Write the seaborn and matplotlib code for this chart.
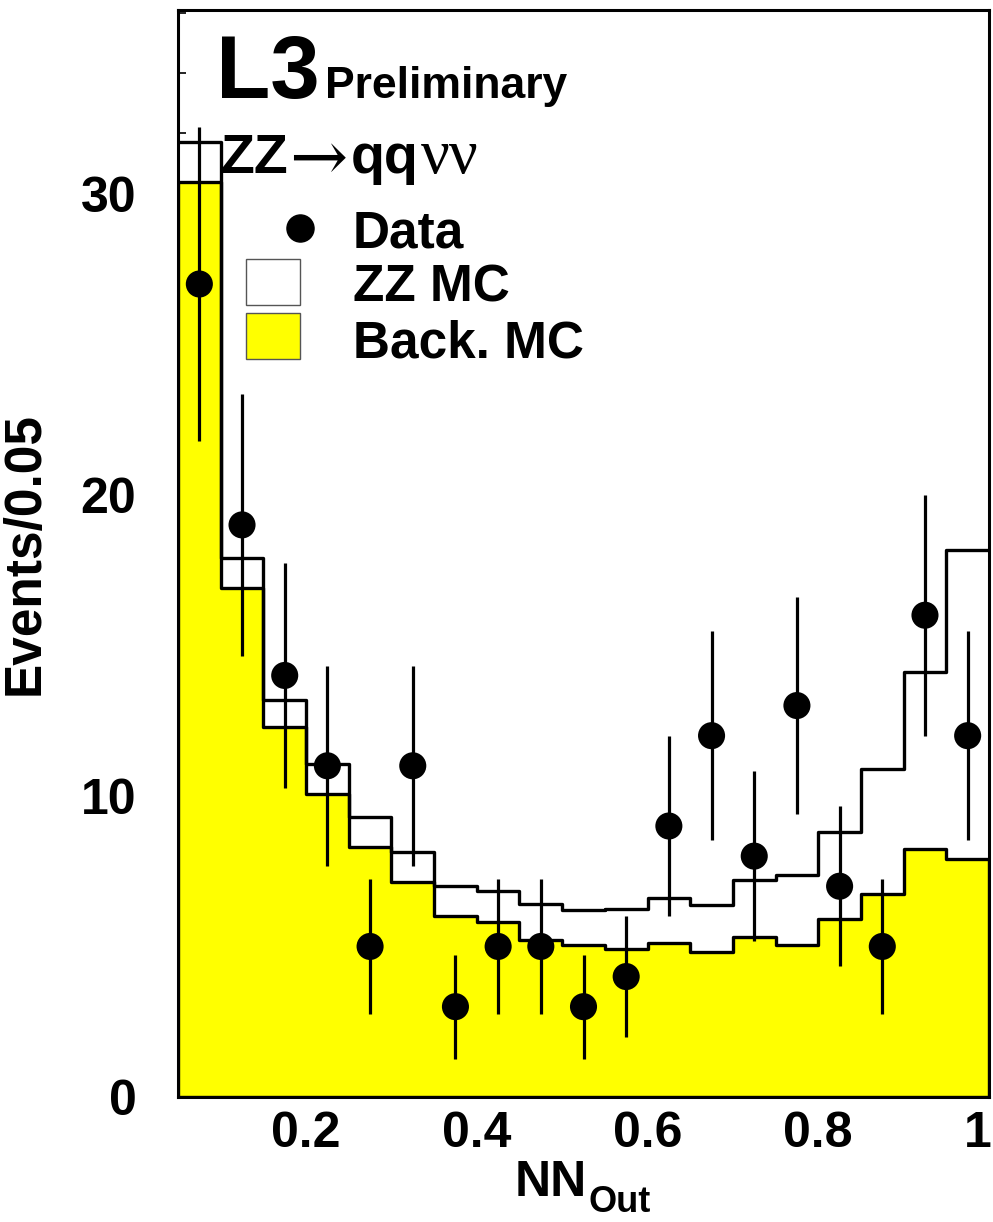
import numpy as np
import pandas as pd
import matplotlib
matplotlib.use("Agg")
import matplotlib.pyplot as plt
from matplotlib.patches import Rectangle
from matplotlib.lines import Line2D
from matplotlib.ticker import MultipleLocator, FixedLocator, FixedFormatter
from matplotlib.transforms import ScaledTranslation
import seaborn as sns

# ---------------- data ----------------
bin_edges = [0.05, 0.10, 0.15, 0.20, 0.25, 0.30, 0.35, 0.40, 0.45, 0.50,
             0.55, 0.60, 0.65, 0.70, 0.75, 0.80, 0.85, 0.90, 0.95, 1.00]
bin_centers = [0.075, 0.125, 0.175, 0.225, 0.275, 0.325, 0.375, 0.425, 0.475, 0.525,
               0.575, 0.625, 0.675, 0.725, 0.775, 0.825, 0.875, 0.925, 0.975]
data_counts = [27, 19, 14, 11, 5, 11, 3, 5, 5, 3, 4, 9, 12, 8, 13, 7, 5, 16, 12]
data_errors = [5.2, 4.36, 3.74, 3.32, 2.24, 3.32, 1.73, 2.24, 2.24, 1.73,
               2.0, 3.0, 3.46, 2.83, 3.61, 2.65, 2.24, 4.0, 3.46]
back_mc = [30.4, 16.9, 12.3, 10.05, 8.3, 7.13, 6.0, 5.8, 5.2, 5.05,
           4.92, 5.1, 4.82, 5.32, 5.05, 5.9, 6.73, 8.25, 7.92]
zz_plus_back = [31.7, 17.9, 13.2, 11.05, 9.3, 8.15, 7.0, 6.85, 6.42, 6.2,
                6.25, 6.6, 6.38, 7.22, 7.38, 8.8, 10.9, 14.1, 18.15]

x_tick_vals = [0.2, 0.4, 0.6, 0.8, 1.0]
x_tick_labels = ["0.2", "0.4", "0.6", "0.8", "1"]
y_tick_vals = [0, 10, 20, 30]
y_tick_labels = ["0", "10", "20", "30"]

# ---------------- style ----------------
sns.set_theme(style="ticks")
plt.rcParams["font.family"] = ["Liberation Sans", "DejaVu Sans"]
plt.rcParams["font.weight"] = "bold"
for k in ["text.color", "axes.labelcolor", "xtick.color", "ytick.color",
          "axes.edgecolor", "xtick.labelcolor", "ytick.labelcolor"]:
    plt.rcParams[k] = "black"

W, H = 993, 1222
fig = plt.figure(figsize=(W / 100, H / 100), dpi=100, facecolor="white")
ax = fig.add_axes([178 / W, 1 - 1097 / H, (989 - 178) / W, (1097 - 10) / H])
ax.set_facecolor("white")

df = pd.DataFrame({"x": bin_centers, "back": back_mc, "tot": zz_plus_back,
                   "n": data_counts, "err": data_errors})

# background MC (yellow, filled)
sns.histplot(data=df, x="x", weights="back", bins=bin_edges, element="step",
             fill=True, color="#ffff00", alpha=1.0, edgecolor="black",
             linewidth=2.4, ax=ax, zorder=2)
# ZZ MC stacked on top (white, outline only)
sns.histplot(data=df, x="x", weights="tot", bins=bin_edges, element="step",
             fill=False, color="black", linewidth=2.4, ax=ax, zorder=3)
# data points
ax.errorbar(df["x"], df["n"], yerr=df["err"], fmt="none", ecolor="black",
            elinewidth=2.3, capsize=0, zorder=4)
sns.scatterplot(data=df, x="x", y="n", s=380, color="black", edgecolor="none",
                ax=ax, zorder=5)

# ---------------- axes ----------------
ax.set_xlim(0.05, 1.0)
ax.set_ylim(0, 36.1)
ax.xaxis.set_major_locator(FixedLocator(x_tick_vals))
ax.xaxis.set_major_formatter(FixedFormatter(x_tick_labels))
ax.xaxis.set_minor_locator(MultipleLocator(0.05))
ax.yaxis.set_major_locator(FixedLocator(y_tick_vals))
ax.yaxis.set_major_formatter(FixedFormatter(y_tick_labels))
ax.yaxis.set_minor_locator(MultipleLocator(2))
ax.tick_params(axis="both", which="both", direction="in", top=False, right=False,
               color="black", width=1.2)
ax.tick_params(axis="both", which="major", length=12, labelsize=36, labelcolor="black")
ax.tick_params(axis="both", which="minor", length=6)
ax.tick_params(axis="x", which="major", pad=10)
ax.tick_params(axis="y", which="major", pad=30)
for lab in ax.get_xticklabels() + ax.get_yticklabels():
    lab.set_fontweight("bold")
for sp in ax.spines.values():
    sp.set_linewidth(2.2)
    sp.set_color("black")
    sp.set_visible(True)
    sp.set_zorder(10)

# keep the last x tick label ("1") inside the figure edge
last_tick = ax.xaxis.get_major_ticks()[-1]
last_tick.label1.set_horizontalalignment("right")
last_tick.label1.set_transform(last_tick.label1.get_transform()
                               + ScaledTranslation(0.03, 0, fig.dpi_scale_trans))

# x label: "NN" with subscript "Out"
ax.set_xlabel("NN", fontsize=36, fontweight="bold", color="black", ha="left")
ax.xaxis.set_label_coords((515 - 178) / 811, -0.058)
ax.text((588 - 178) / 811, (1097 - 1212) / 1087, "Out", transform=ax.transAxes,
        fontsize=26, fontweight="bold", color="black", ha="left", va="baseline")
ax.set_ylabel("Events/0.05", fontsize=37, fontweight="bold", color="black")
ax.yaxis.set_label_coords(-0.158, 0.5)

# ---------------- annotations ----------------
def ftext(px, py, s, **kw):
    fig.text(px / W, 1 - py / H, s, va="baseline", ha="left", color="black", **kw)

ftext(216, 98, "L3", fontsize=64, fontweight="bold")
ftext(325, 98, "Preliminary", fontsize=32, fontweight="bold")
ftext(220, 173, "ZZ", fontsize=40, fontweight="bold")
ftext(289, 180, "\u2192", fontsize=50, fontweight="normal", family=["DejaVu Serif"])
ftext(351, 173, "qq", fontsize=40, fontweight="bold")
ftext(421, 173, "\u03bd\u03bd", fontsize=46, fontweight="normal",
      family=["Liberation Serif", "DejaVu Serif"])

# ---------------- legend (manual) ----------------
def ax_frac(px, py):
    return (px - 178) / 811, (1097 - py) / 1087

mx, my = ax_frac(300, 228)
ax.add_line(Line2D([mx], [my], marker="o", markersize=19.5, color="black",
                   linestyle="none", transform=ax.transAxes, zorder=6))
bx, by = ax_frac(246, 305)
ax.add_patch(Rectangle((bx, by), 54 / 811, 46 / 1087, transform=ax.transAxes,
                       facecolor="white", edgecolor="#555555", linewidth=1.0, zorder=6))
bx2, by2 = ax_frac(246, 359)
ax.add_patch(Rectangle((bx2, by2), 54 / 811, 46 / 1087, transform=ax.transAxes,
                       facecolor="#ffff00", edgecolor="#555555", linewidth=1.0, zorder=6))
for (py, label) in [(228, "Data"), (283, "ZZ MC"), (338, "Back. MC")]:
    tx, ty = ax_frac(353, py)
    ax.text(tx, ty, label, transform=ax.transAxes, fontsize=37, fontweight="bold",
            va="center_baseline", ha="left", color="black", zorder=6)

fig.savefig("out.png", dpi=100, facecolor="white")
